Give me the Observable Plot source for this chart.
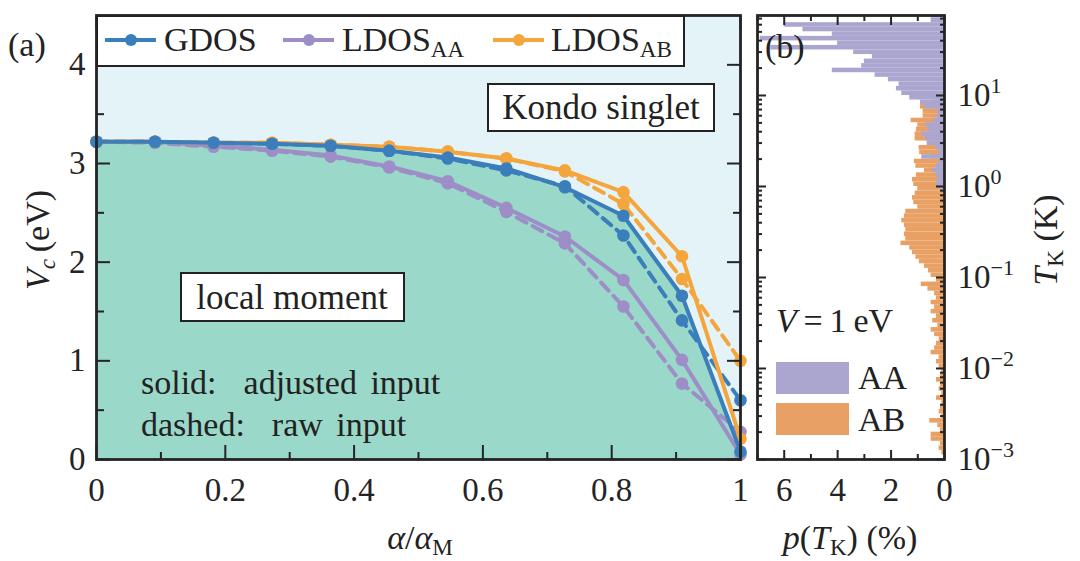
<!DOCTYPE html>
<html><head><meta charset="utf-8">
<script src="https://cdn.jsdelivr.net/npm/d3@7"></script>
<script src="https://cdn.jsdelivr.net/npm/@observablehq/plot@0.6"></script>
<style>
body{margin:0;background:#fff;}
#root{position:relative;width:1080px;height:561px;font-family:"Liberation Serif",serif;color:#222;}
#root svg{position:absolute;top:0;}
.lbl{position:absolute;white-space:nowrap;font-size:32px;line-height:1;}
.lbl sub{font-size:0.68em;vertical-align:-0.28em;line-height:0;}
.box{position:absolute;box-sizing:border-box;background:#fff;border:2px solid #222;}
</style></head>
<body><div id="root"></div>
<script>
// ---------- data: panel (a) ----------
const alpha = [0, 0.0909, 0.1818, 0.2727, 0.3636, 0.4545, 0.5455, 0.6364, 0.7273, 0.8182, 0.9091, 1];
const gdosSolid  = [3.22,3.22,3.21,3.20,3.18,3.13,3.06,2.95,2.76,2.47,1.66,0.08];
const gdosDashed = [3.22,3.22,3.21,3.20,3.18,3.13,3.05,2.93,2.77,2.27,1.41,0.60];
const aaSolid    = [3.22,3.22,3.18,3.14,3.08,2.97,2.82,2.55,2.26,1.82,1.01,0.05];
const aaDashed   = [3.22,3.21,3.17,3.13,3.07,2.96,2.80,2.51,2.19,1.55,0.77,0.28];
const abSolid    = [3.22,3.22,3.21,3.21,3.19,3.17,3.12,3.05,2.93,2.71,2.06,0.21];
const abDashed   = [3.22,3.22,3.21,3.21,3.19,3.17,3.12,3.05,2.92,2.59,1.83,1.00];
const xTickLabels = ["0","0.2","0.4","0.6","0.8","1"];
const yTickLabels = ["0","1","2","3","4"];

// ---------- data: panel (b) histogram, log10(T_K) bins of 0.05, from top (1.85) down to -3.00 ----------
const pAA = [0.5,0.5,6.0,5.3,4.2,6.9,4.0,6.5,3.4,2.7,3.0,3.1,4.2,2.6,2.1,1.7,1.8,1.6,1.3,0.9,
             0.75,0.25,0.25,0.4,0.7,0.6,0.85,0.7,0.65,0.3,0.2,0.85,0.2,0.3,0.45,0.3,0.25,0.3,0.15,0,
             0,0,0,0,0,0,0,0,0,0,0,0,0,0,0,0,0,0,0,0,
             0,0,0,0,0,0,0,0,0,0,0,0,0,0,0,0,0,0,0,0,
             0,0,0,0,0,0,0,0,0,0,0,0,0,0,0,0,0,0];
const pAB = [0,0,0,0,0,0,0,0,0,0,0,0,0,0,0,0,0,0,
             0.3,0.5,0.9,0.8,0.8,1.25,1.0,1.05,1.1,1.1,0.6,0.95,0.93,0.55,1.13,1.07,0.75,1.05,1.2,1.15,
             1.0,1.1,1.2,1.15,1.0,1.45,1.5,1.6,1.5,1.45,1.5,1.45,1.63,1.3,1.2,1.07,0.94,0.75,0.6,0.5,
             0.3,0.87,0.62,0.37,0.3,0.5,0.37,0.5,0.3,0.44,0.25,0.5,0.37,0.2,0.3,0.37,0.5,0.2,0.3,0.2,
             0.1,0.15,0.3,0.15,0.2,0.1,0.3,0.1,0.15,0.2,0.1,0.55,0.25,0.15,0.5,0.5,0.15,0.2,0.1,0.0];
const binTopLog = 1.85, binStep = 0.05;
const pTickLabels = ["0","2","4","6"];

// ---------- colors ----------
const cG = "#3a7ebc", cAA = "#9d8ec7", cAB = "#f4a63d";
const hAA = "#aaa6d0", hAB = "#e9a064";
const ink = "#242424";

const root = document.getElementById("root");
const rows = vals => alpha.map((a, i) => ({a, v: vals[i]}));

const series = [
  {vals: aaDashed, color: cAA, dash: true},
  {vals: abDashed, color: cAB, dash: true},
  {vals: gdosDashed, color: cG, dash: true},
  {vals: aaSolid, color: cAA, dash: false},
  {vals: abSolid, color: cAB, dash: false},
  {vals: gdosSolid, color: cG, dash: false}
];

const xMajor = xTickLabels.map(Number);
const xMinor = [0.1,0.3,0.5,0.7,0.9];
const yMajor = yTickLabels.map(Number);
const yMinor = [0.5,1.5,2.5,3.5];
const noLab = () => "";
const axStyle = {stroke: ink, strokeWidth: 2, fill: ink, fontSize: 33, label: null};

const plotA = Plot.plot({
  width: 760, height: 561,
  marginLeft: 96, marginRight: 20, marginTop: 15, marginBottom: 102,
  x: {domain: [0, 1]},
  y: {domain: [0, 4.5]},
  style: {background: "transparent", fontFamily: "Liberation Serif", fontSize: "33px", color: ink, overflow: "visible"},
  marks: [
    Plot.frame({fill: "#e4f3f8", stroke: null}),
    Plot.areaY(rows(gdosSolid), {x: "a", y: "v", fill: "#9ad8c9"}),
    ...series.flatMap(s => [
      Plot.line(rows(s.vals), {x: "a", y: "v", stroke: s.color, strokeWidth: 4, strokeDasharray: s.dash ? "11,7" : null}),
      Plot.dot(rows(s.vals), {x: "a", y: "v", r: 6.3, fill: s.color, stroke: null})
    ]),
    Plot.axisX({...axStyle, ticks: xMajor, tickSize: -14, tickPadding: 32, tickFormat: (d, i) => xTickLabels[i]}),
    Plot.axisX({...axStyle, ticks: xMinor, tickSize: -7, tickFormat: noLab}),
    Plot.axisX({...axStyle, anchor: "top", ticks: xMajor, tickSize: -14, tickFormat: noLab}),
    Plot.axisX({...axStyle, anchor: "top", ticks: xMinor, tickSize: -7, tickFormat: noLab}),
    Plot.axisY({...axStyle, ticks: yMajor, tickSize: -14, tickPadding: 25, tickFormat: (d, i) => yTickLabels[i]}),
    Plot.axisY({...axStyle, ticks: yMinor, tickSize: -8, tickFormat: noLab}),
    Plot.axisY({...axStyle, anchor: "right", ticks: yMajor, tickSize: -14, tickFormat: noLab}),
    Plot.axisY({...axStyle, anchor: "right", ticks: yMinor, tickSize: -8, tickFormat: noLab}),
    Plot.frame({stroke: ink, strokeWidth: 2.8})
  ]
});
plotA.style.left = "0px";
root.appendChild(plotA);

// ---------- panel (b) ----------
const binRows = vals => vals.map((p, i) => {
  const lo = binTopLog - binStep * i;
  return {lo: Math.pow(10, lo), hi: Math.pow(10, lo + binStep), x1: 0, p};
}).filter(d => d.p > 0);

const yMaxB = Math.pow(10, 1.879);
const logMajor = [1e-3, 1e-2, 1e-1, 1, 10];
const logMinor = [];
for (const d of [1e-3, 1e-2, 1e-1, 1, 10]) for (let m = 2; m <= 9; m++) if (m * d < yMaxB) logMinor.push(m * d);
const pMajor = pTickLabels.map(Number);
const pMinor = [1, 3, 5, 7];

const plotB = Plot.plot({
  width: 330, height: 561,
  marginLeft: 7, marginRight: 136, marginTop: 15, marginBottom: 102,
  x: {domain: [0, 7], reverse: true},
  y: {type: "log", domain: [1e-3, yMaxB]},
  style: {background: "transparent", fontFamily: "Liberation Serif", fontSize: "33px", color: ink, overflow: "visible"},
  marks: [
    Plot.rect(binRows(pAB), {x1: "x1", x2: "p", y1: "lo", y2: "hi", fill: hAB, clip: true}),
    Plot.rect(binRows(pAA), {x1: "x1", x2: "p", y1: "lo", y2: "hi", fill: hAA, clip: true}),
    Plot.axisX({...axStyle, ticks: pMajor, tickSize: -9, tickPadding: 27, tickFormat: (d, i) => pTickLabels[i]}),
    Plot.axisX({...axStyle, ticks: pMinor, tickSize: -5, tickFormat: noLab}),
    Plot.axisX({...axStyle, anchor: "top", ticks: pMajor, tickSize: -9, tickFormat: noLab}),
    Plot.axisX({...axStyle, anchor: "top", ticks: pMinor, tickSize: -5, tickFormat: noLab}),
    Plot.axisY({...axStyle, anchor: "right", ticks: logMajor, tickSize: -9, tickPadding: 22, tickFormat: d => "10^" + Math.round(Math.log10(d))}),
    Plot.axisY({...axStyle, anchor: "right", ticks: logMinor, tickSize: -5, tickFormat: noLab}),
    Plot.axisY({...axStyle, anchor: "left", ticks: logMajor, tickSize: -9, tickFormat: noLab}),
    Plot.axisY({...axStyle, anchor: "left", ticks: logMinor, tickSize: -5, tickFormat: noLab}),
    Plot.frame({stroke: ink, strokeWidth: 2.8})
  ]
});
plotB.style.left = "750px";
root.appendChild(plotB);

// superscript exponents on the log tick labels
const svgns = "http://www.w3.org/2000/svg";
plotB.querySelectorAll("text").forEach(t => {
  const s = t.textContent;
  if (s.indexOf("^") < 0) return;
  const [b, e] = s.split("^");
  t.textContent = b;
  const ts = document.createElementNS(svgns, "tspan");
  ts.setAttribute("dy", "-13");
  ts.setAttribute("font-size", "22");
  ts.textContent = e.replace("-", "\u2212");
  t.appendChild(ts);
});

// ---------- overlay text ----------
function label(html, x, y, opts = {}) {
  const d = document.createElement("div");
  d.className = "lbl";
  d.innerHTML = html;
  const ax = opts.anchor === "middle" ? -50 : opts.anchor === "end" ? -100 : 0;
  d.style.left = x + "px";
  d.style.top = y + "px";
  d.style.transform = `translate(${ax}%, -50%)` + (opts.rotate ? ` rotate(${opts.rotate}deg)` : "");
  if (opts.size) d.style.fontSize = opts.size + "px";
  if (opts.ws) d.style.wordSpacing = opts.ws + "px";
  root.appendChild(d);
  return d;
}
function box(x, y, w, h, bg, border) {
  const d = document.createElement("div");
  d.className = "box";
  Object.assign(d.style, {left: x + "px", top: y + "px", width: w + "px", height: h + "px"});
  if (bg) d.style.background = bg;
  if (border === null) d.style.border = "none";
  root.appendChild(d);
  return d;
}
function legendSample(x1, x2, y, color) {
  const l = document.createElement("div");
  Object.assign(l.style, {position: "absolute", left: x1 + "px", top: (y - 2) + "px", width: (x2 - x1) + "px", height: "4px", background: color});
  root.appendChild(l);
  const c = document.createElement("div");
  const cx = (x1 + x2) / 2;
  Object.assign(c.style, {position: "absolute", left: (cx - 6) + "px", top: (y - 6) + "px", width: "12px", height: "12px", borderRadius: "50%", background: color});
  root.appendChild(c);
}

// legend (a)
box(96, 15, 589, 52);
legendSample(105, 156, 40, cG);
label("GDOS", 164, 40, {size: 34});
legendSample(283, 334, 40, cAA);
label("LDOS<sub>AA</sub>", 342, 40, {size: 34});
legendSample(493, 544, 40, cAB);
label("LDOS<sub>AB</sub>", 551, 40, {size: 34});

// annotation boxes
box(487, 83, 228, 49);
label("Kondo singlet", 601, 107, {anchor: "middle", size: 35});
box(180, 272, 225, 50);
label("local moment", 292, 297, {anchor: "middle", size: 35});
label("solid:&nbsp; adjusted input", 141, 383, {size: 34, ws: 5});
label("dashed:&nbsp; raw input", 141, 425, {size: 34, ws: 5});

label("(a)", 8, 45, {size: 34});
label("(b)", 765, 47, {size: 34});

// axis titles
label("<i>V</i><sub><i>c</i></sub>&thinsp;(eV)", 38, 240, {anchor: "middle", rotate: -90, size: 34});
label("<i>α</i>/<i>α</i><sub>M</sub>", 420, 538, {anchor: "middle", size: 34});
label("<i>p</i>(<i>T</i><sub>K</sub>)&nbsp;(%)", 850, 538, {anchor: "middle", size: 34});
label("<i>T</i><sub>K</sub>&nbsp;(K)", 1046, 240, {anchor: "middle", rotate: -90, size: 34});

// panel (b) legend
label("<i>V</i>&thinsp;=&thinsp;1&thinsp;eV", 776, 321, {size: 34});
box(776, 362, 73, 32, hAA, null);
box(776, 403, 73, 32, hAB, null);
label("AA", 858, 378, {size: 34});
label("AB", 858, 420, {size: 34});
</script>
</body></html>
